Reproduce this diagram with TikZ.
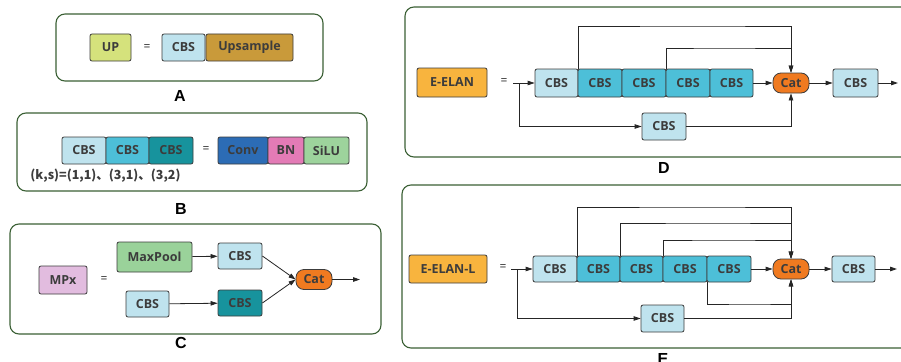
\documentclass[tikz,border=0pt]{standalone}
\usepackage{fontspec}
\setmainfont{Open Sans}
\newfontfamily\cjk{Noto Sans CJK SC}
\newfontfamily\lblfont{Liberation Sans}
\usetikzlibrary{arrows.meta}

\definecolor{frameg}{HTML}{3B6035}
\definecolor{ink}{HTML}{262626}
\definecolor{cbsl}{HTML}{BFE3EE}
\definecolor{cbsm}{HTML}{4DBFD8}
\definecolor{cbsd}{HTML}{17939D}
\definecolor{convc}{HTML}{2C6CB5}
\definecolor{bnc}{HTML}{E37BB6}
\definecolor{siluc}{HTML}{9DD39C}
\definecolor{poolc}{HTML}{9AD29A}
\definecolor{mpxc}{HTML}{E2BCDF}
\definecolor{upc}{HTML}{D5E27C}
\definecolor{upsc}{HTML}{C99A3A}
\definecolor{elanc}{HTML}{F8B43E}
\definecolor{catc}{HTML}{F07A20}

\tikzset{
  panel/.style={draw=frameg, line width=1.1pt, rounded corners=9pt},
  blk/.style={draw=ink!90, line width=0.8pt, rounded corners=2pt, inner sep=0pt,
    text=ink!90, font=\bfseries\fontsize{12.5}{15}\selectfont, minimum height=27pt},
  cbsL/.style={blk, fill=cbsl},
  cbsM/.style={blk, fill=cbsm},
  cbsD/.style={blk, fill=cbsd},
  catbox/.style={blk, fill=catc, rounded corners=8pt, minimum width=36pt, minimum height=20pt},
  eqsign/.style={text=ink, font=\fontsize{12}{14}\selectfont, inner sep=0pt},
  plabel/.style={text=black, font=\lblfont\bfseries\fontsize{16}{18}\selectfont, inner sep=0pt},
  arr/.style={draw=ink, line width=0.8pt, -{Triangle[length=7pt,width=4.5pt]}},
}

\begin{document}
\begin{tikzpicture}[x=1pt, y=-1pt]
\clip (0,0) rectangle (901,361);
\fill[white] (0,0) rectangle (901,361);

% ---------- A: UP ----------
\draw[panel] (56,14) rectangle (323,81);
\node[blk, fill=upc, minimum width=41pt] (up) at (110.5,47.5) {UP};
\node[eqsign] (eqA) at (147,48) {=};
\node[cbsL, minimum width=43pt] (upcbs) at (183.5,47.5) {CBS};
\node[blk, fill=upsc, minimum width=87pt] (ups) at (249.5,47.5) {Upsample};
\node[plabel] (labA) at (180,96) {A};

% ---------- B: CBS ----------
\draw[panel] (17,113) rectangle (367,191);
\node[cbsL, minimum width=44pt] (b1) at (84,150.5) {CBS};
\node[cbsM, minimum width=43pt] (b2) at (127.5,150.5) {CBS};
\node[cbsD, minimum width=44pt] (b3) at (171,150.5) {CBS};
\node[eqsign] (eqB) at (206,150) {=};
\node[blk, fill=convc, minimum width=50pt] (conv) at (243,150.5) {Conv};
\node[blk, fill=bnc, minimum width=36pt] (bn) at (286,150.5) {BN};
\node[blk, fill=siluc, minimum width=45pt] (silu) at (326.5,150.5) {SiLU};
\node[text=ink!90, inner sep=0pt, font=\cjk\bfseries\fontsize{12.5}{15}\selectfont] (ks) at (105.5,176)
  {(k,s)=(1,1)、(3,1)、(3,2)};
\node[plabel] (labB) at (181,209) {B};

% ---------- C: MPx ----------
\draw[panel] (10,224) rectangle (381,334);
\node[blk, fill=mpxc, minimum width=48pt, minimum height=28pt] (mpx) at (63,280) {MPx};
\node[eqsign] (eqC) at (104,280) {=};
\node[blk, fill=poolc, minimum width=75pt, minimum height=30pt] (pool) at (154.5,257) {MaxPool};
\node[cbsL, minimum width=44pt, minimum height=26pt] (c1) at (240,256) {CBS};
\node[cbsL, minimum width=43pt, minimum height=26pt] (c2) at (147.5,304) {CBS};
\node[cbsD, minimum width=44pt, minimum height=26pt] (c3) at (240,303) {CBS};
\node[catbox] (ccat) at (314,279.5) {Cat};
\coordinate (cout) at (360,279.5);
\draw[arr] (pool) -- (c1);
\draw[arr] (c2) -- (c3);
\draw[arr] (c1.east) -- (ccat.west);
\draw[arr] (c3.east) -- (ccat.west);
\draw[arr] (ccat.east) -- (cout);
\node[plabel] (labC) at (181,343) {C};

% ---------- D: E-ELAN ----------
\draw[panel] (405,7) rectangle (925,157);
\node[blk, fill=elanc, minimum width=70pt, minimum height=29pt] (elan) at (452,82.5) {E-ELAN};
\node[eqsign] (eqD) at (504,82) {=};
\node[cbsL, minimum width=43pt, minimum height=28pt] (d1) at (556.5,83) {CBS};
\node[cbsM, minimum width=44pt, minimum height=28pt] (d2) at (600,83) {CBS};
\node[cbsM, minimum width=44pt, minimum height=28pt] (d3) at (644,83) {CBS};
\node[cbsM, minimum width=44pt, minimum height=28pt] (d4) at (688,83) {CBS};
\node[cbsM, minimum width=43pt, minimum height=28pt] (d5) at (731.5,83) {CBS};
\node[catbox] (dcat) at (791,83) {Cat};
\node[cbsL, minimum width=45pt, minimum height=28pt] (dout) at (855.5,83) {CBS};
\node[cbsL, minimum width=44pt] (dbot) at (664,126.5) {CBS};
\coordinate (din) at (513,83);
\coordinate (djn) at (519,83);
\coordinate (dend) at (898,83);
\coordinate (dtop1) at (700,26);
\coordinate (dtop2) at (720,48);
\draw[arr] (din) -- (d1.west);
\draw[arr] (djn) |- (dbot.west);
\draw[arr] (dbot.east) -| (dcat.south);
\draw[arr] (d1.north east) |- (dtop1) -| (dcat.north);
\draw[arr] (d3.north east) |- (dtop2) -| (dcat.north);
\draw[arr] (d5.east) -- (dcat.west);
\draw[arr] (dcat.east) -- (dout.west);
\draw[arr] (dout.east) -- (dend);
\node[plabel] (labD) at (664,168) {D};

% ---------- E: E-ELAN-L ----------
\draw[panel] (402,185) rectangle (925,348);
\node[blk, fill=elanc, minimum width=78pt, minimum height=28pt] (elanl) at (448,269) {E-ELAN-L};
\node[eqsign] (eqE) at (503,268) {=};
\node[cbsL, minimum width=44pt, minimum height=26pt] (e1) at (555,269) {CBS};
\node[cbsM, minimum width=43pt, minimum height=26pt] (e2) at (598.5,269) {CBS};
\node[cbsM, minimum width=43pt, minimum height=26pt] (e3) at (641.5,269) {CBS};
\node[cbsM, minimum width=44pt, minimum height=26pt] (e4) at (685,269) {CBS};
\node[cbsM, minimum width=44pt, minimum height=26pt] (e5) at (729,269) {CBS};
\node[catbox] (ecat) at (791,269) {Cat};
\node[cbsL, minimum width=43pt, minimum height=26pt] (eout) at (853.5,269) {CBS};
\node[cbsL, minimum width=43pt] (ebot) at (662.5,318.5) {CBS};
\coordinate (ein) at (511,269);
\coordinate (ejn) at (517,269);
\coordinate (eend) at (897,269);
\coordinate (etop1) at (700,207);
\coordinate (etop2) at (710,223);
\coordinate (etop3) at (720,240);
\coordinate (elow) at (750,304);
\draw[arr] (ein) -- (e1.west);
\draw[arr] (ejn) |- (ebot.west);
\draw[arr] (ebot.east) -| (ecat.south);
\draw[arr] (e4.south east) |- (elow) -| (ecat.south);
\draw[arr] (e1.north east) |- (etop1) -| (ecat.north);
\draw[arr] (e2.north east) |- (etop2) -| (ecat.north);
\draw[arr] (e3.north east) |- (etop3) -| (ecat.north);
\draw[arr] (e5.east) -- (ecat.west);
\draw[arr] (ecat.east) -- (eout.west);
\draw[arr] (eout.east) -- (eend);
\node[plabel] (labE) at (663,359) {E};
\end{tikzpicture}
\end{document}
